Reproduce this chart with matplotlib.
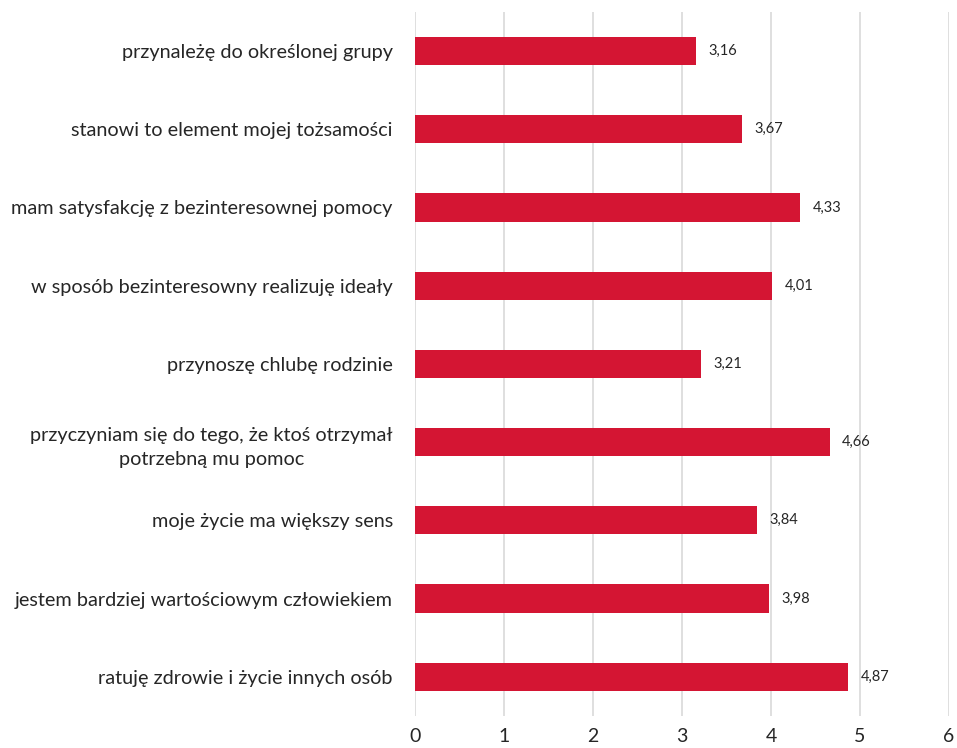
import matplotlib
matplotlib.use("Agg")
import matplotlib.pyplot as plt

categories = [
    "przynależę do określonej grupy",
    "stanowi to element mojej tożsamości",
    "mam satysfakcję z bezinteresownej pomocy",
    "w sposób bezinteresowny realizuję ideały",
    "przynoszę chlubę rodzinie",
    "przyczyniam się do tego, że ktoś otrzymał\npotrzebną mu pomoc",
    "moje życie ma większy sens",
    "jestem bardziej wartościowym człowiekiem",
    "ratuję zdrowie i życie innych osób",
]
values = [3.16, 3.67, 4.33, 4.01, 3.21, 4.66, 3.84, 3.98, 4.87]
x_ticks = [0, 1, 2, 3, 4, 5, 6]

plt.rcParams["font.family"] = ["Lato", "DejaVu Sans"]

fig = plt.figure(figsize=(9.57, 7.48), dpi=100)
ax = fig.add_axes([0.4337, 0.043, 0.558, 0.941])

ypos = list(range(len(categories)))
ax.barh(ypos, values, height=0.36, color="#D41533", zorder=3)

for y, v in zip(ypos, values):
    ax.annotate(f"{v:.2f}".replace(".", ","), xy=(v, y), xytext=(9, 0),
                textcoords="offset points", va="center", ha="left",
                fontsize=10.5, color="#262626")

ax.set_xlim(0, 6)
ax.set_ylim(len(categories) - 0.5, -0.5)
ax.set_xticks(x_ticks)
ax.set_xticklabels([str(t) for t in x_ticks], fontsize=14, color="#262626")
ax.set_yticks(ypos)
ax.set_yticklabels(categories, fontsize=14.3, color="#262626",
                   multialignment="center")
for lbl in ax.get_yticklabels():
    lbl.set_linespacing(1.5)
ax.tick_params(axis="both", length=0)
ax.tick_params(axis="y", pad=16)
ax.tick_params(axis="x", pad=9)
ax.grid(axis="x", color="#d9d9d9", linewidth=1.2, zorder=0)
for s in ax.spines.values():
    s.set_visible(False)

fig.savefig("out.png", dpi=100)
